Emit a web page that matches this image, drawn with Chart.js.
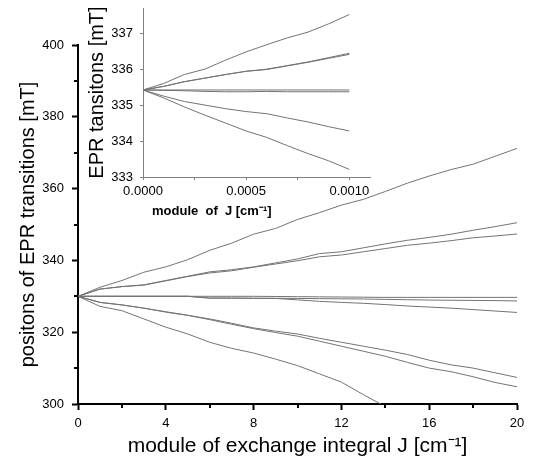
<!DOCTYPE html>
<html>
<head>
<meta charset="utf-8">
<script src="https://cdn.jsdelivr.net/npm/chart.js@4.4.1/dist/chart.umd.min.js"></script>
<style>
  html, body { margin: 0; padding: 0; background: #fff; }
  #marco { position: relative; width: 539px; height: 464px; }
  #marco canvas { position: absolute; left: 0; top: 0; }
</style>
</head>
<body>
<div id="marco">
  <canvas id="grafico-principal" width="539" height="464"></canvas>
  <canvas id="grafico-inserto" width="400" height="230"></canvas>
</div>
<script>
// --- datos del grafico principal (J en cm-1, campo en mT) ---
const valoresJ = [0, 1, 2, 3, 4, 5, 6, 7, 8, 9, 10, 11, 12, 13, 14, 15, 16, 17, 18, 19, 20];
const curvaSuperior = [330, 332.5, 334.4, 336.7, 338.2, 340.2, 342.8, 344.8, 347.3, 348.9, 351.4, 353.3, 355.4, 357.0, 359.2, 361.5, 363.5, 365.3, 366.8, 369.0, 371.2];
const curvaAltaA = [330, 332.0, 332.7, 333.2, 334.4, 335.6, 336.8, 337.4, 338.2, 339.3, 340.4, 341.9, 342.4, 343.5, 344.6, 345.6, 346.4, 347.3, 348.4, 349.4, 350.5];
const curvaAltaB = [330, 332.0, 332.7, 333.1, 334.3, 335.5, 336.5, 337.1, 338.1, 339.0, 339.9, 341.0, 341.5, 342.4, 343.3, 344.2, 344.8, 345.5, 346.3, 346.8, 347.35];
const curvaMediaA = [330, 330, 330, 330, 330, 330, 330, 330, 330, 329.95, 329.9, 329.85, 329.8, 329.75, 329.7, 329.7, 329.7, 329.7, 329.7, 329.7, 329.7];
const curvaMediaB = [330, 330, 330, 330, 330, 330, 329.5, 329.5, 329.45, 329.45, 329.4, 329.35, 329.3, 329.25, 329.15, 329.05, 328.95, 328.9, 328.85, 328.8, 328.7];
const curvaMediaC = [330, 330, 330, 330, 330, 330, 329.5, 329.5, 329.45, 329.4, 329.0, 328.6, 328.3, 328.05, 327.7, 327.3, 327.0, 326.7, 326.3, 325.9, 325.5];
const curvaBajaA = [330, 328.3, 327.6, 326.7, 325.7, 324.7, 323.7, 322.5, 321.2, 320.3, 319.5, 318.3, 317.2, 316.1, 315.0, 313.8, 312.2, 310.9, 310.0, 308.7, 307.4];
const curvaBajaB = [330, 328.3, 327.6, 326.7, 325.6, 324.7, 323.5, 322.2, 321.0, 319.9, 318.9, 317.5, 316.1, 314.7, 313.3, 311.6, 310.0, 309.0, 307.6, 306.0, 304.8];
const curvaInferior = [330, 327.2, 326.0, 323.7, 321.4, 319.5, 317.2, 315.5, 314.2, 312.5, 310.7, 308.4, 306.1, 302.6, 299.3];

const ticksX = [0, 4, 8, 12, 16, 20];
const ticksXMenores = [2, 6, 10, 14, 18];
const ticksY = [300, 320, 340, 360, 380, 400];
const ticksYMenores = [310, 330, 350, 370, 390];

// --- datos del inserto ---
const valoresJInserto = [0, 0.0001, 0.0002, 0.0003, 0.0004, 0.0005, 0.0006, 0.0007, 0.0008, 0.0009, 0.001];
const insertoSuperior = [335.42, 335.6, 335.85, 336.0, 336.25, 336.48, 336.68, 336.87, 337.03, 337.26, 337.52];
const insertoAltaA = [335.42, 335.52, 335.65, 335.75, 335.85, 335.94, 336.0, 336.1, 336.2, 336.32, 336.44];
const insertoAltaB = [335.42, 335.52, 335.65, 335.75, 335.85, 335.94, 335.99, 336.09, 336.19, 336.3, 336.41];
const insertoMediaA = [335.42, 335.42, 335.42, 335.42, 335.42, 335.42, 335.42, 335.42, 335.42, 335.42, 335.42];
const insertoMediaB = [335.42, 335.41, 335.4, 335.38, 335.37, 335.37, 335.38, 335.37, 335.37, 335.37, 335.37];
const insertoBaja = [335.42, 335.25, 335.1, 335.0, 334.9, 334.82, 334.76, 334.64, 334.53, 334.4, 334.28];
const insertoInferior = [335.42, 335.2, 334.95, 334.72, 334.5, 334.28, 334.1, 333.87, 333.65, 333.45, 333.21];

const ticksXInserto = [0, 0.00025, 0.0005, 0.00075, 0.001];
const ticksXInsertoEtiquetados = [0, 0.0005, 0.001];
const ticksYInserto = [333, 334, 335, 336, 337];

const FUENTE = "'Liberation Sans', Arial, sans-serif";
const COLOR_LINEA = "#737373";
const COLOR_EJE_INSERTO = "#808080";

const armarSerie = (xs, ys) => ({
  data: ys.map((y, i) => ({ x: xs[i], y })),
  borderColor: COLOR_LINEA,
  borderWidth: 1,
  pointRadius: 0,
  tension: 0,
  fill: false,
});

const fijarTicks = (valores) => (escala) => {
  escala.ticks = valores.map((value) => ({ value }));
};

// ancho/alto fijo del eje y sin relleno extra en los extremos
const fijarAncho = (ancho) => (escala) => {
  escala.width = ancho;
  escala.paddingTop = 0;
  escala.paddingBottom = 0;
};

const fijarAlto = (alto) => (escala) => {
  escala.height = alto;
  escala.paddingLeft = 0;
  escala.paddingRight = 0;
};

// marcas menores mas cortas que las principales
const ticksMenores = {
  id: "ticksMenores",
  afterDraw(chart, args, opciones) {
    const { ctx } = chart;
    const escalaX = chart.scales.x;
    const escalaY = chart.scales.y;
    ctx.save();
    ctx.strokeStyle = opciones.color;
    ctx.lineWidth = opciones.ancho;
    ctx.beginPath();
    (opciones.x || []).forEach((valor) => {
      const px = Math.round(escalaX.getPixelForValue(valor));
      ctx.moveTo(px, escalaX.top);
      ctx.lineTo(px, escalaX.top + opciones.largo);
    });
    (opciones.y || []).forEach((valor) => {
      const py = Math.round(escalaY.getPixelForValue(valor));
      ctx.moveTo(escalaY.right, py);
      ctx.lineTo(escalaY.right - opciones.largo, py);
    });
    ctx.stroke();
    ctx.restore();
  },
};

// titulo del eje x del inserto, corrido a la izquierda como en el original
const tituloInserto = {
  id: "tituloInserto",
  afterDraw(chart, args, opciones) {
    const { ctx } = chart;
    ctx.save();
    ctx.font = opciones.fuente;
    ctx.fillStyle = "#000";
    ctx.textBaseline = "middle";
    ctx.textAlign = "left";
    ctx.fillText(opciones.texto, chart.scales.x.left + opciones.desplazamiento, opciones.y);
    ctx.restore();
  },
};

new Chart(document.querySelector("#grafico-principal"), {
  type: "line",
  data: {
    datasets: [
      curvaSuperior, curvaAltaA, curvaAltaB, curvaMediaA, curvaMediaB,
      curvaMediaC, curvaBajaA, curvaBajaB, curvaInferior,
    ].map((ys) => armarSerie(valoresJ, ys)),
  },
  options: {
    responsive: false,
    animation: false,
    layout: { padding: { top: 45, right: 22, left: 0, bottom: 0 } },
    plugins: {
      legend: { display: false },
      tooltip: { enabled: false },
      ticksMenores: { x: ticksXMenores, y: ticksYMenores, largo: 4, ancho: 2, color: "#000" },
    },
    scales: {
      x: {
        type: "linear",
        min: 0,
        max: 20,
        afterBuildTicks: fijarTicks(ticksX),
        afterFit: fijarAlto(60),
        border: { display: true, color: "#000", width: 2 },
        grid: { drawOnChartArea: false, tickLength: 6, tickColor: "#000", tickWidth: 2 },
        ticks: { color: "#000", padding: 6, maxRotation: 0, autoSkip: false, font: { family: FUENTE, size: 13 } },
        title: {
          display: true,
          text: "module of exchange integral J [cm\u207B\u00B9]",
          color: "#000",
          font: { family: FUENTE, size: 21 },
          padding: { top: 0, bottom: 5 },
        },
      },
      y: {
        type: "linear",
        min: 300,
        max: 400,
        afterBuildTicks: fijarTicks(ticksY),
        afterFit: fijarAncho(78),
        border: { display: true, color: "#000", width: 2 },
        grid: { drawOnChartArea: false, tickLength: 6, tickColor: "#000", tickWidth: 2 },
        ticks: { color: "#000", padding: 8, font: { family: FUENTE, size: 13 } },
        title: {
          display: true,
          text: "positons of EPR transitions [mT]",
          color: "#000",
          font: { family: FUENTE, size: 20 },
          padding: { top: 16, bottom: 0 },
        },
      },
    },
  },
  plugins: [ticksMenores],
});

new Chart(document.querySelector("#grafico-inserto"), {
  type: "line",
  data: {
    datasets: [
      insertoSuperior, insertoAltaA, insertoAltaB, insertoMediaA,
      insertoMediaB, insertoBaja, insertoInferior,
    ].map((ys) => armarSerie(valoresJInserto, ys)),
  },
  options: {
    responsive: false,
    animation: false,
    layout: { padding: { top: 8, right: 30, left: 0, bottom: 0 } },
    plugins: {
      legend: { display: false },
      tooltip: { enabled: false },
      tituloInserto: {
        texto: "module  of  J [cm\u207B\u00B9]",
        fuente: `bold 13px ${FUENTE}`,
        desplazamiento: 9,
        y: 211,
      },
    },
    scales: {
      x: {
        type: "linear",
        min: 0,
        max: 0.0011,
        afterBuildTicks: fijarTicks(ticksXInserto),
        afterFit: fijarAlto(53),
        border: { display: true, color: COLOR_EJE_INSERTO, width: 1 },
        grid: { drawOnChartArea: false, tickLength: 3, tickColor: COLOR_EJE_INSERTO, tickWidth: 1 },
        ticks: {
          color: "#000",
          padding: 4,
          maxRotation: 0,
          autoSkip: false,
          font: { family: FUENTE, size: 13 },
          callback: (valor) => (ticksXInsertoEtiquetados.includes(valor) ? valor.toFixed(4) : ""),
        },
      },
      y: {
        type: "linear",
        min: 333,
        max: 337.7,
        afterBuildTicks: fijarTicks(ticksYInserto),
        afterFit: fijarAncho(143),
        border: { display: true, color: COLOR_EJE_INSERTO, width: 1 },
        grid: { drawOnChartArea: false, tickLength: 3, tickColor: COLOR_EJE_INSERTO, tickWidth: 1 },
        ticks: { color: "#000", padding: 7, font: { family: FUENTE, size: 13 } },
        title: {
          display: true,
          text: "EPR tansitons [mT]",
          color: "#000",
          font: { family: FUENTE, size: 20 },
          padding: { top: 85, bottom: 0 },
        },
      },
    },
  },
  plugins: [tituloInserto],
});
</script>
</body>
</html>
